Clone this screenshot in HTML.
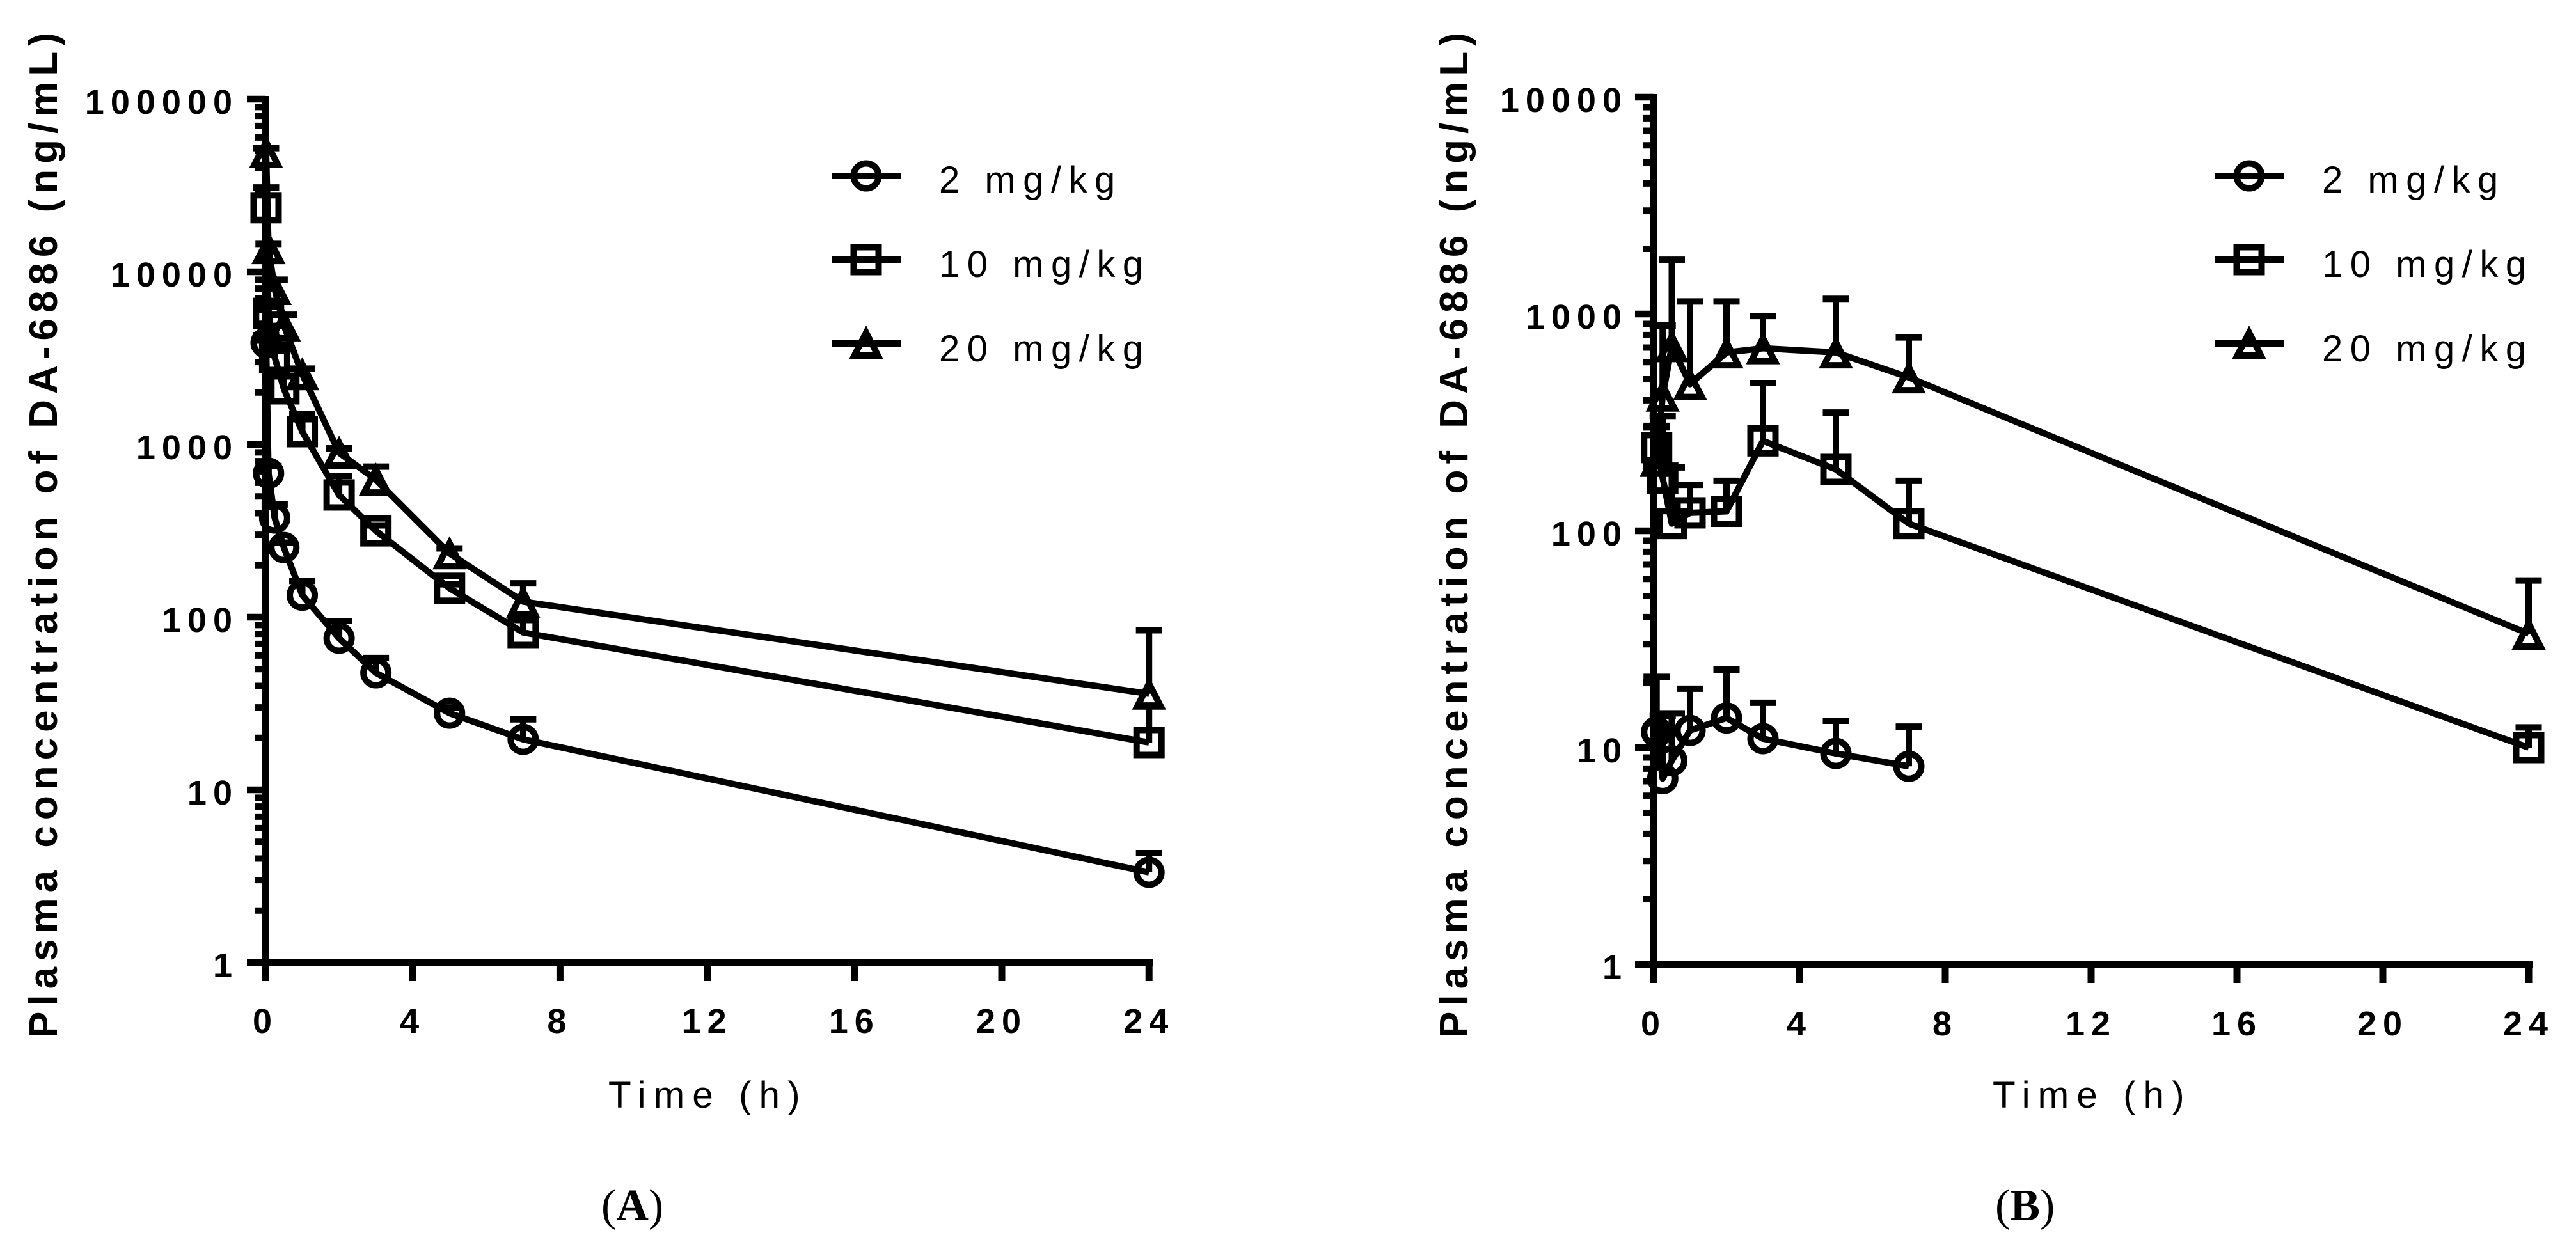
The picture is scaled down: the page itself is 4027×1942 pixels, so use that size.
<!DOCTYPE html>
<html lang="en">
<head>
<meta charset="utf-8">
<title>Plasma concentration of DA-6886</title>
<style>
html,body{margin:0;padding:0;background:#fff;}
#figure{display:block;width:4027px;height:1942px;background:#fff;}
.tick-text{font-family:"Liberation Sans",Arial,sans-serif;font-weight:700;font-size:54px;letter-spacing:10px;fill:#000;}
.y-title{font-family:"Liberation Sans",Arial,sans-serif;font-weight:700;font-size:62px;letter-spacing:9px;fill:#000;}
.x-title{font-family:"Liberation Sans",Arial,sans-serif;font-weight:400;font-size:58.5px;letter-spacing:12px;fill:#000;}
.legend-text{font-family:"Liberation Sans",Arial,sans-serif;font-weight:400;font-size:58px;letter-spacing:11.5px;fill:#000;}
.panel-tag{font-family:"Liberation Serif",serif;font-size:70px;fill:#000;}
</style>
</head>
<body>
<svg id="figure" xmlns="http://www.w3.org/2000/svg" width="4027" height="1942" viewBox="0 0 4027 1942">
  <g id="panel-a"></g>
  <g id="panel-b"></g>

  <text class="y-title" transform="translate(89,1623) rotate(-90)">Plasma concentration of DA-6886 (ng/mL)</text>
  <text class="y-title" transform="translate(2294,1623) rotate(-90)">Plasma concentration of DA-6886 (ng/mL)</text>
  <text class="x-title" x="951" y="1732">Time (h)</text>
  <text class="x-title" x="3115" y="1732">Time (h)</text>

  <text class="panel-tag" x="940" y="1908">(<tspan font-weight="700">A</tspan>)</text>
  <text class="panel-tag" x="3119" y="1908">(<tspan font-weight="700">B</tspan>)</text>

  <text class="legend-text" x="1468" y="301">2 mg/kg</text>
  <text class="legend-text" x="1468" y="433">10 mg/kg</text>
  <text class="legend-text" x="1468" y="565">20 mg/kg</text>
  <text class="legend-text" x="3630" y="301">2 mg/kg</text>
  <text class="legend-text" x="3630" y="433">10 mg/kg</text>
  <text class="legend-text" x="3630" y="565">20 mg/kg</text>
</svg>
<script>
// ---- chart data ----
const xTickValues = [0, 4, 8, 12, 16, 20, 24];
const xTickLabels = ['0', '4', '8', '12', '16', '20', '24'];

const panelAYTicks = [1, 10, 100, 1000, 10000, 100000];
const panelAYLabels = ['1', '10', '100', '1000', '10000', '100000'];
const panelBYTicks = [1, 10, 100, 1000, 10000];
const panelBYLabels = ['1', '10', '100', '1000', '10000'];

const panelATimes = [0.017, 0.083, 0.25, 0.5, 1, 2, 3, 5, 7, 24];
const panelADose2 = [3880, 681, 375, 253, 134, 75.5, 47.6, 27.8, 19.6, 3.33];
const panelADose2Upper = [4300, 750, 449, 270, 162, 95, 58, 30, 25.6, 4.3];
const panelADose10 = [23500, 5740, 3190, 2100, 1186, 510, 316, 147, 81.5, 18.8];
const panelADose10Upper = [30800, 6300, 3500, 2500, 1505, 658, 340, 155, 97, 30.8];
const panelADose20 = [49300, 13700, 7940, 4890, 2550, 895, 625, 234, 123, 36];
const panelADose20Upper = [52000, 14500, 9000, 5640, 2750, 950, 744, 250, 157, 84];

const panelBTimes = [0.083, 0.25, 0.5, 1, 2, 3, 5, 7, 24];
const panelBDose2 = [11.8, 7.2, 8.7, 12, 13.7, 11, 9.4, 8.2];
const panelBDose2Upper = [21.2, 14, 14.4, 18.7, 22.9, 16.1, 13.3, 12.5];
const panelBDose10 = [242, 175, 108, 121, 123, 260, 192, 108, 10];
const panelBDose10Upper = [305, 339, 196, 163, 170, 480, 351, 170, 12.4];
const panelBDose20 = [210, 420, 710, 475, 665, 695, 665, 510, 33.5];
const panelBDose20Upper = [300, 885, 1780, 1143, 1143, 979, 1175, 780, 59];

const legendLabels = ['2 mg/kg', '10 mg/kg', '20 mg/kg'];
const markerKinds = ['circle', 'square', 'triangle'];

// ---- drawing ----
const NS = 'http://www.w3.org/2000/svg';
const STROKE = 10;

function make(parent, tag, attrs) {
  const el = document.createElementNS(NS, tag);
  for (const key in attrs) el.setAttribute(key, attrs[key]);
  parent.appendChild(el);
  return el;
}

function drawMarker(parent, kind, cx, cy) {
  let el;
  if (kind === 'circle') {
    el = make(parent, 'circle', {cx: cx, cy: cy, r: 19.5, fill: 'none', stroke: '#000', 'stroke-width': STROKE});
  } else if (kind === 'square') {
    el = make(parent, 'rect', {x: cx - 19.5, y: cy - 19.5, width: 39, height: 39, fill: 'none', stroke: '#000', 'stroke-width': STROKE});
  } else {
    const pts = (cx) + ',' + (cy - 16) + ' ' + (cx + 18.5) + ',' + (cy + 20) + ' ' + (cx - 18.5) + ',' + (cy + 20);
    el = make(parent, 'polygon', {points: pts, fill: 'none', stroke: '#000', 'stroke-width': STROKE, 'stroke-linejoin': 'miter'});
  }
  return el;
}

function drawPanel(cfg) {
  const root = document.getElementById(cfg.id);
  const xScale = function (t) { return cfg.x0 + cfg.pxPerHour * t; };
  const yScale = function (v) { return cfg.yBase - cfg.pxPerDecade * Math.log10(v); };

  // axes
  const axes = make(root, 'g', {});
  
  

  const yTop = yScale(cfg.yTicks[cfg.yTicks.length - 1]);
  const yLine = make(axes, 'line', {x1: cfg.x0, x2: cfg.x0, y1: yTop - 5, y2: cfg.yBase + 28, stroke: '#000', 'stroke-width': 11});
  
  

  const xLine = make(axes, 'line', {x1: cfg.x0 - 29, x2: xScale(24) + 6, y1: cfg.yBase, y2: cfg.yBase, stroke: '#000', 'stroke-width': 10});
  
  

  xTickValues.forEach(function (t, i) {
    const tick = make(axes, 'line', {x1: xScale(t), x2: xScale(t), y1: cfg.yBase, y2: cfg.yBase + 29, stroke: '#000', 'stroke-width': 11});
    
    
    const label = make(axes, 'text', {x: xScale(t), y: cfg.xLabelBaseline, 'text-anchor': 'middle', class: 'tick-text'});
    label.textContent = xTickLabels[i];
    
    
  });

  cfg.yTicks.forEach(function (v, i) {
    const major = make(axes, 'line', {x1: cfg.x0 - 29, x2: cfg.x0, y1: yScale(v), y2: yScale(v), stroke: '#000', 'stroke-width': 10.5});
    
    
    const label = make(axes, 'text', {x: cfg.yLabelRight, y: yScale(v) + 23, 'text-anchor': 'end', class: 'tick-text'});
    label.textContent = cfg.yLabels[i];
    
    
    if (i < cfg.yTicks.length - 1) {
      for (let m = 2; m <= 9; m++) {
        const minorY = yScale(v * m);
        const minor = make(axes, 'line', {x1: cfg.x0 - 17, x2: cfg.x0, y1: minorY, y2: minorY, stroke: '#000', 'stroke-width': 10});
        
        
      }
    }
  });

  // series
  cfg.series.forEach(function (s) {
    const g = make(root, 'g', {});
    
    

    s.values.forEach(function (v, i) {
      const x = xScale(cfg.times[i]);
      const stem = make(g, 'line', {x1: x, x2: x, y1: yScale(v), y2: yScale(s.upper[i]), stroke: '#000', 'stroke-width': 10});
      
      
      const cap = make(g, 'line', {x1: x - 20.5, x2: x + 20.5, y1: yScale(s.upper[i]), y2: yScale(s.upper[i]), stroke: '#000', 'stroke-width': 10});
      
      
    });

    const pts = s.values.map(function (v, i) { return xScale(cfg.times[i]) + ',' + yScale(v); }).join(' ');
    const line = make(g, 'polyline', {points: pts, fill: 'none', stroke: '#000', 'stroke-width': STROKE, 'stroke-linejoin': 'round'});
    
    

    s.values.forEach(function (v, i) {
      const mark = drawMarker(g, s.kind, xScale(cfg.times[i]), yScale(v));
      
      
    });
  });

  // legend symbols
  const legendRows = [275, 406, 537];
  legendLabels.forEach(function (label, i) {
    const g = make(root, 'g', {});
    
    
    const y = legendRows[i];
    const stroke = make(g, 'line', {x1: cfg.legendX - 54, x2: cfg.legendX + 54, y1: y, y2: y, stroke: '#000', 'stroke-width': STROKE});
    
    
    const mark = drawMarker(g, markerKinds[i], cfg.legendX, y - (i === 2 ? 1 : 0));
    
    
  });
}

drawPanel({
  id: 'panel-a', x0: 415, pxPerHour: 57.55, yBase: 1505, pxPerDecade: 270,
  xLabelBaseline: 1615, yLabelRight: 373, legendX: 1354,
  yTicks: panelAYTicks, yLabels: panelAYLabels, times: panelATimes,
  series: [
    {name: 'panel-a-series-2-mg-kg', kind: 'circle', values: panelADose2, upper: panelADose2Upper},
    {name: 'panel-a-series-10-mg-kg', kind: 'square', values: panelADose10, upper: panelADose10Upper},
    {name: 'panel-a-series-20-mg-kg', kind: 'triangle', values: panelADose20, upper: panelADose20Upper}
  ]
});

drawPanel({
  id: 'panel-b', x0: 2585, pxPerHour: 57, yBase: 1508, pxPerDecade: 339,
  xLabelBaseline: 1619, yLabelRight: 2545, legendX: 3516,
  yTicks: panelBYTicks, yLabels: panelBYLabels, times: panelBTimes,
  series: [
    {name: 'panel-b-series-2-mg-kg', kind: 'circle', values: panelBDose2, upper: panelBDose2Upper},
    {name: 'panel-b-series-10-mg-kg', kind: 'square', values: panelBDose10, upper: panelBDose10Upper},
    {name: 'panel-b-series-20-mg-kg', kind: 'triangle', values: panelBDose20, upper: panelBDose20Upper}
  ]
});
</script>
</body>
</html>
